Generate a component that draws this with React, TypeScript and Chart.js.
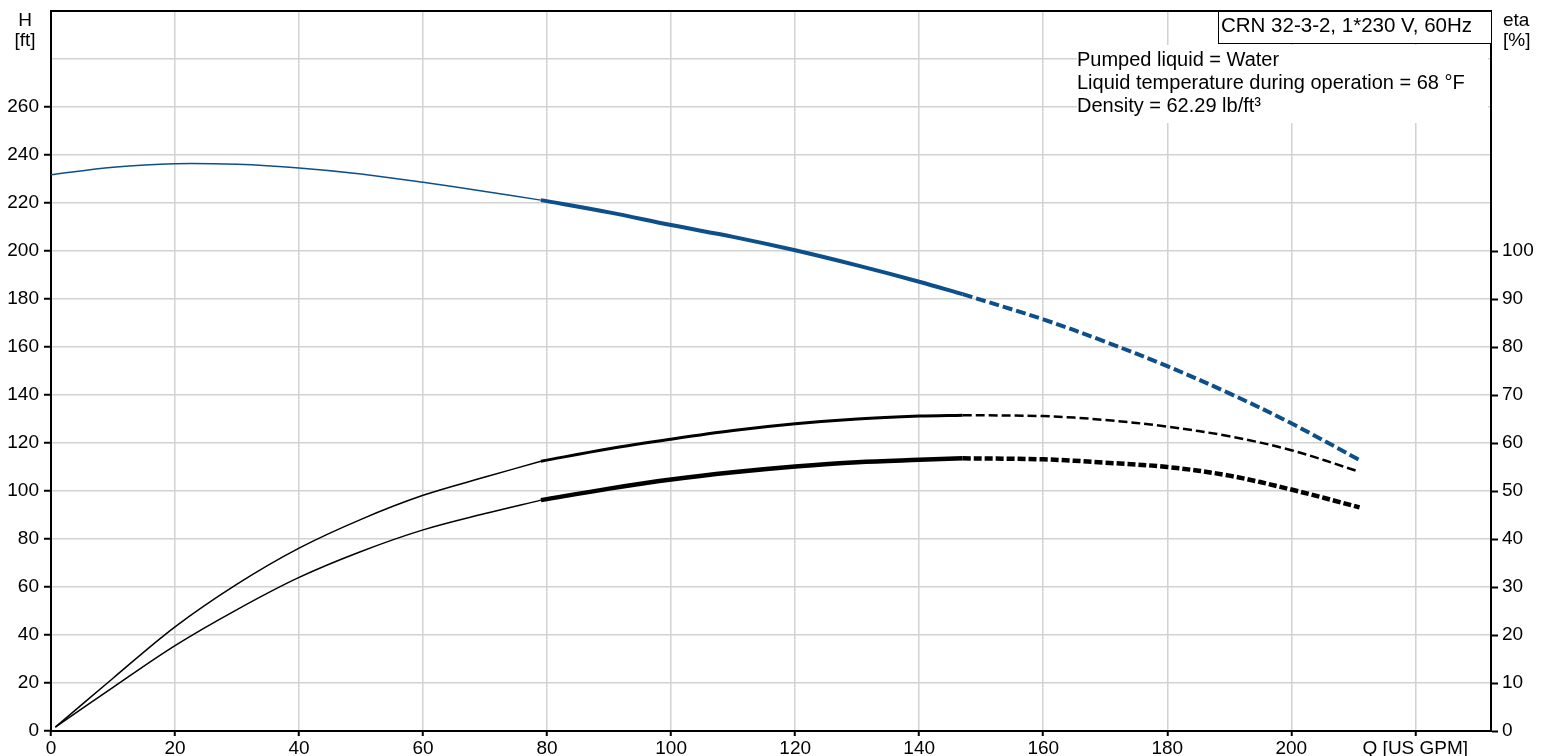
import React, { useEffect, useRef } from "react";
import { Chart, registerables } from "chart.js";

Chart.register(...registerables);

// ---- Data ----
// Head curve H [ft] vs flow Q [US GPM]
const qHeadThin = [0, 10, 20, 30, 40, 50, 60, 70, 79];
const headThin = [231.8, 234.9, 236.4, 236.1, 234.6, 232.1, 228.6, 224.8, 221.2];
const qHeadThick = [79, 90, 100, 110, 120, 130, 140, 147];
const headThick = [221.2, 216.1, 210.8, 205.9, 200.3, 194.0, 187.2, 182.0];
const qHeadDash = [147, 160, 170, 180, 190, 200, 211];
const headDash = [182.0, 171.5, 162.2, 152.0, 140.7, 128.2, 112.9];

// Efficiency curves eta [%]
const qEtaThin = [0.7, 10, 20, 30, 40, 50, 60, 70, 79];
const etaPumpThin = [0.8, 11.0, 21.7, 30.6, 38.1, 44.1, 49.1, 52.9, 56.2];
const etaTotalThin = [0.8, 9.1, 17.8, 25.3, 32.0, 37.4, 41.9, 45.3, 48.1];
const qEtaThick = [79, 90, 100, 110, 120, 130, 140, 147];
const etaPumpThick = [56.2, 58.8, 60.8, 62.6, 64.0, 65.0, 65.6, 65.8];
const etaTotalThick = [48.1, 50.5, 52.4, 53.9, 55.1, 56.0, 56.5, 56.8];
const qEtaDash = [147, 160, 170, 180, 190, 200, 211];
const etaPumpDash = [65.8, 65.6, 64.8, 63.4, 61.4, 58.5, 54.0];
const etaTotalDash = [56.8, 56.6, 55.9, 55.0, 53.2, 50.3, 46.6];

// Axes / ticks
const xMax = 232.2;
const xStep = 20;
const xUnitTick = 220;
const xUnitLabel = "Q [US GPM]";
const hMax = 300;
const hStep = 20;
const hLabelMax = 260;
const etaMax = 150;
const etaStep = 10;
const etaLabelMax = 100;

const titleText = "CRN 32-3-2, 1*230 V, 60Hz";
const infoLines = [
  "Pumped liquid = Water",
  "Liquid temperature during operation = 68 °F",
  "Density = 62.29 lb/ft³",
];
const leftAxisTitle = ["H", "[ft]"];
const rightAxisTitle = ["eta", "[%]"];

const BLUE = "#0d4f8b";
const FONT = "'Liberation Sans', Arial, Helvetica, sans-serif";

const pts = (xs: number[], ys: number[]) => xs.map((x, i) => ({ x, y: ys[i] }));

const decor = {
  id: "decor",
  afterDraw(chart: any) {
    const { ctx, chartArea } = chart;
    const { left, right, top } = chartArea;
    ctx.save();
    // top border
    ctx.strokeStyle = "#000";
    ctx.lineWidth = 2;
    ctx.beginPath();
    ctx.moveTo(left - 1, top);
    ctx.lineTo(right + 1, top);
    ctx.stroke();

    // info box (white background)
    ctx.fillStyle = "#fff";
    ctx.fillRect(1077, 45, right - 3 - 1077, 78);
    ctx.fillStyle = "#000";
    ctx.font = `20px ${FONT}`;
    ctx.textAlign = "left";
    ctx.textBaseline = "alphabetic";
    infoLines.forEach((t, i) => ctx.fillText(t, 1077, 66 + i * 23));

    // title box
    const bx = 1218;
    const by = top;
    const bw = right - bx;
    const bh = 32;
    ctx.fillStyle = "#fff";
    ctx.fillRect(bx, by, bw, bh);
    ctx.strokeStyle = "#000";
    ctx.lineWidth = 1;
    ctx.strokeRect(bx + 0.5, by + 0.5, bw, bh);
    ctx.fillStyle = "#000";
    ctx.font = `20.5px ${FONT}`;
    ctx.fillText(titleText, bx + 3, by + 21);

    // axis titles
    ctx.font = `19px ${FONT}`;
    ctx.textAlign = "center";
    ctx.fillText(leftAxisTitle[0], 25, 26);
    ctx.fillText(leftAxisTitle[1], 25, 46);
    ctx.textAlign = "left";
    ctx.fillText(rightAxisTitle[0], 1503, 26);
    ctx.fillText(rightAxisTitle[1], 1503, 46);
    ctx.restore();
  },
};

export default function App() {
  const ref = useRef<HTMLCanvasElement | null>(null);

  useEffect(() => {
    if (!ref.current) return;
    const line = (data: any[], color: string, width: number, axis: string, dash: number[] = []) => ({
      data,
      borderColor: color,
      backgroundColor: color,
      borderWidth: width,
      borderDash: dash,
      borderCapStyle: "butt",
      pointRadius: 0,
      fill: false,
      tension: 0.35,
      yAxisID: axis,
      xAxisID: "x",
    });

    const chart = new Chart(ref.current, {
      type: "line",
      data: {
        datasets: [
          line(pts(qHeadThin, headThin), BLUE, 1.5, "y"),
          line(pts(qHeadThick, headThick), BLUE, 4, "y"),
          line(pts(qHeadDash, headDash), BLUE, 4, "y", [10, 4]),
          line(pts(qEtaThin, etaPumpThin), "#000", 1.5, "y2"),
          line(pts(qEtaThick, etaPumpThick), "#000", 3, "y2"),
          line(pts(qEtaDash, etaPumpDash), "#000", 2.5, "y2", [9, 4]),
          line(pts(qEtaThin, etaTotalThin), "#000", 1.5, "y2"),
          line(pts(qEtaThick, etaTotalThick), "#000", 4.5, "y2"),
          line(pts(qEtaDash, etaTotalDash), "#000", 4.5, "y2", [8, 3]),
        ] as any,
      },
      options: {
        animation: false,
        responsive: false,
        parsing: false as any,
        normalized: true,
        layout: { padding: { top: 11, left: 0, right: 0, bottom: 0 } },
        plugins: { legend: { display: false }, tooltip: { enabled: false }, title: { display: false } },
        scales: {
          x: {
            type: "linear",
            position: "bottom",
            min: 0,
            max: xMax,
            afterFit: (s: any) => {
              s.height = 25;
              s.paddingLeft = 0;
              s.paddingRight = 0;
            },
            border: { display: true, color: "#000", width: 2 },
            grid: {
              color: "#d2d2d2",
              lineWidth: 1.5,
              tickLength: 5,
              tickColor: "#000",
              tickWidth: 2,
            },
            ticks: {
              stepSize: xStep,
              includeBounds: false,
              autoSkip: false,
              maxRotation: 0,
              padding: 1,
              color: "#000",
              font: { family: FONT, size: 19 },
              callback: (v: any) => (v === xUnitTick ? xUnitLabel : String(v)),
            },
          },
          y: {
            type: "linear",
            position: "left",
            min: 0,
            max: hMax,
            afterFit: (s: any) => {
              s.width = 51;
              s.paddingTop = 0;
              s.paddingBottom = 0;
            },
            border: { display: true, color: "#000", width: 2 },
            grid: {
              color: "#d2d2d2",
              lineWidth: 1.5,
              tickLength: 7,
              tickWidth: 2,
              tickColor: (c: any) => (c.tick && c.tick.value > hLabelMax ? "rgba(0,0,0,0)" : "#000"),
            },
            ticks: {
              stepSize: hStep,
              autoSkip: false,
              padding: 5,
              color: "#000",
              font: { family: FONT, size: 19 },
              callback: (v: any) => (v <= hLabelMax ? String(v) : ""),
            },
          },
          y2: {
            type: "linear",
            position: "right",
            min: 0,
            max: etaMax,
            afterFit: (s: any) => {
              s.width = 74;
              s.paddingTop = 0;
              s.paddingBottom = 0;
            },
            border: { display: true, color: "#000", width: 2 },
            grid: {
              drawOnChartArea: false,
              tickLength: 7,
              tickWidth: 2,
              tickColor: (c: any) => (c.tick && c.tick.value > etaLabelMax ? "rgba(0,0,0,0)" : "#000"),
            },
            ticks: {
              stepSize: etaStep,
              autoSkip: false,
              padding: 4,
              color: "#000",
              font: { family: FONT, size: 19 },
              callback: (v: any) => (v <= etaLabelMax ? String(v) : ""),
            },
          },
        },
      } as any,
      plugins: [decor],
    });
    return () => chart.destroy();
  }, []);

  return (
    <div style={{ position: "fixed", left: 0, top: 0, width: 1565, height: 756, background: "#fff" }}>
      <canvas ref={ref} width={1565} height={756} style={{ display: "block" }} />
    </div>
  );
}
